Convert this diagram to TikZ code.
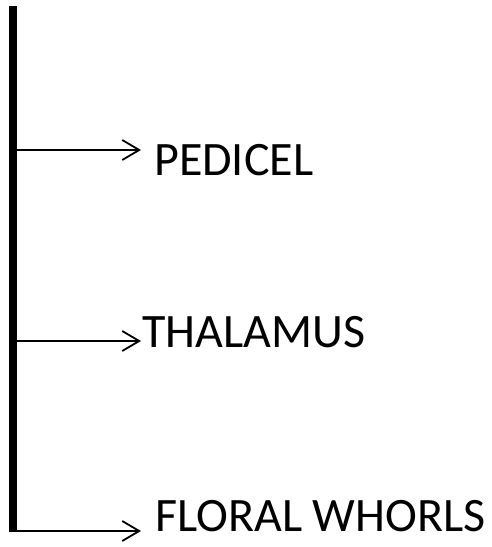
\documentclass[tikz,border=0pt]{standalone}
\usepackage{fontspec}
\setmainfont{Carlito}
\usetikzlibrary{arrows.meta}

\begin{document}
\begin{tikzpicture}[x=1pt,y=-1pt]

    \tikzstyle{labelnode} = [anchor=base west, inner sep=0, font=\fontsize{48}{52}\selectfont];
    \tikzstyle{stem} = [line width=8pt];
    \tikzstyle{arrow} = [line width=1.8pt, -{Straight Barb[length=17pt,width=20pt]}];

    \useasboundingbox (0,0) rectangle (491,547);

    % Stem
    \coordinate (ST) at (13,6);
    \coordinate (SB) at (13,532);
    \draw [stem] (ST) -- (SB);

    % Branches
    \coordinate (S1) at (13,150);
    \coordinate (E1) at (141,150);
    \node[labelnode] (PED) at (154,175) {PEDICEL};
    \draw [arrow] (S1) -- (E1);

    \coordinate (S2) at (13,341);
    \coordinate (E2) at (141,341);
    \node[labelnode] (THA) at (142,347) {THALAMUS};
    \draw [arrow] (S2) -- (E2);

    \coordinate (S3) at (13,531);
    \coordinate (E3) at (141,531);
    \node[labelnode] (FLW) at (155,531) {FLORAL WHORLS};
    \draw [arrow] (S3) -- (E3);
    % Branches

\end{tikzpicture}
\end{document}
